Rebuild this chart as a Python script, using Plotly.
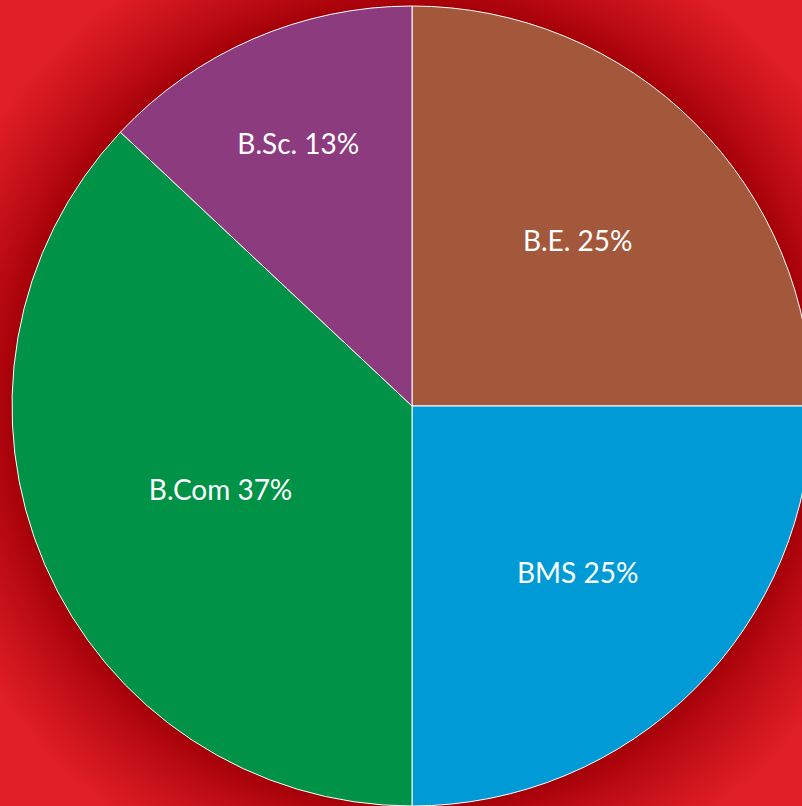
import plotly.graph_objects as go

labels = ["B.E.", "BMS", "B.Com", "B.Sc."]
values = [25, 25, 37, 13]
colors = ["#A3583B", "#009BD7", "#009347", "#8C3B7F"]

W, H = 812, 806
CX, CY, R = 412, 406, 400  # pie centre / radius in pixels (from top-left)

fig = go.Figure(go.Pie(
    labels=labels,
    values=values,
    sort=False,
    direction="clockwise",
    rotation=0,
    marker=dict(colors=colors, line=dict(color="white", width=1)),
    texttemplate="%{label} %{value}%",
    textposition="inside",
    insidetextorientation="horizontal",
    textfont=dict(family="Lato", size=28, color="white"),
    hoverinfo="label+percent",
    showlegend=False,
    domain=dict(x=[(CX - R) / W, (CX + R) / W], y=[(H - CY - R) / H, (H - CY + R) / H]),
))

# soft dark halo around the pie (radial shadow)
shapes = []
N = 30
for i in range(N):
    r = R + 2 + (i / (N - 1)) ** 1.2 * 100
    shapes.append(dict(
        type="circle", xref="paper", yref="paper", layer="below",
        x0=(CX - r) / W, x1=(CX + r) / W,
        y0=(H - CY - r) / H, y1=(H - CY + r) / H,
        fillcolor="rgba(30,10,10,0.0062)", line=dict(width=0),
    ))

fig.update_layout(
    width=W, height=H,
    margin=dict(l=0, r=0, t=0, b=0),
    paper_bgcolor="#E01E26",
    plot_bgcolor="#E01E26",
    shapes=shapes,
)

fig.write_html(
    "out.html",
    config=dict(displayModeBar=False),
    post_script="document.body.style.margin='0';document.body.style.overflow='hidden';document.documentElement.style.overflow='hidden';",
)
